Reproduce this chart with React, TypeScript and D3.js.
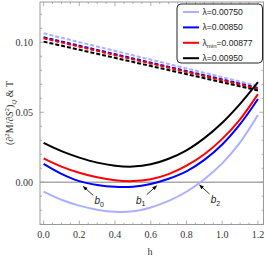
import React, { useEffect, useRef } from "react";
import * as d3 from "d3";

// h values where the curves were read
const hValues = [0, 0.1, 0.2, 0.3, 0.4, 0.5, 0.6, 0.7, 0.8, 0.9, 1.0, 1.1, 1.2];

// (d2M/dS2)_Q curves
const curve00750 = [-0.0067, -0.0125, -0.0167, -0.0196, -0.0211, -0.0208, -0.018, -0.0133, -0.0068, 0.0022, 0.0135, 0.0285, 0.048];
const curve00850 = [0.0131, 0.006, 0.0008, -0.002, -0.0033, -0.0032, -0.0012, 0.0025, 0.0078, 0.016, 0.027, 0.0415, 0.0595];
const curve00877 = [0.0171, 0.0112, 0.0068, 0.0035, 0.0014, 0.0008, 0.0022, 0.0058, 0.0118, 0.02, 0.031, 0.045, 0.063];
const curve00950 = [0.0281, 0.0222, 0.0176, 0.014, 0.0118, 0.0112, 0.0128, 0.0168, 0.0228, 0.0315, 0.0425, 0.056, 0.0715];

// temperature T (dashed), end points at h = 0 and h = 1.2
const tempH = [0, 1.2];
const temp00750 = [0.1064, 0.0688];
const temp00850 = [0.1036, 0.0674];
const temp00877 = [0.1029, 0.0668];
const temp00950 = [0.1005, 0.0656];

const legendLabels = ["0.00750", "0.00850", "0.00877", "0.00950"];
const colors = ["#aab0ff", "#0000ff", "#ff0000", "#000000"];

const xTicks = [0, 0.2, 0.4, 0.6, 0.8, 1.0, 1.2];
const yTicks = [0, 0.05, 0.1];

// b0, b1, b2 crossing annotations: [h, value at arrow tip]
const bPoints = [
  { name: "0", h: 0.222, v: -0.003, dir: 1 },
  { name: "1", h: 0.633, v: -0.0025, dir: -1 },
  { name: "2", h: 0.873, v: -0.002, dir: 1 },
];

export default function App() {
  const ref = useRef<SVGSVGElement>(null);

  useEffect(() => {
    drawChart();
    //eslint-disable-next-line
  }, []);

  function drawChart() {
    const svg = d3.select(ref.current);
    svg.selectAll("*").remove();

    const left = 40, right = 263.5, top = 2, bottom = 224.5;
    const x = d3.scaleLinear().domain([-0.02, 1.231]).range([left, right]);
    const y = d3.scaleLinear().domain([-0.0302, 0.1288]).range([bottom, top]);

    const frameColor = "#999";

    // zero line
    svg
      .append("line")
      .attr("x1", left)
      .attr("x2", right)
      .attr("y1", y(0))
      .attr("y2", y(0))
      .attr("stroke", "#aaa")
      .attr("stroke-width", 1.5);

    const line = d3
      .line<[number, number]>()
      .x((d) => x(d[0]))
      .y((d) => y(d[1]))
      .curve(d3.curveCatmullRom);

    const g = svg.append("g");

    [temp00750, temp00850, temp00877, temp00950].forEach((vals, i) => {
      g.append("path")
        .attr("d", line(tempH.map((h, j) => [h, vals[j]] as [number, number])))
        .attr("fill", "none")
        .attr("stroke", colors[i])
        .attr("stroke-width", 2)
        .attr("stroke-dasharray", "4,2");
    });

    [curve00750, curve00850, curve00877, curve00950].forEach((vals, i) => {
      g.append("path")
        .attr("d", line(hValues.map((h, j) => [h, vals[j]] as [number, number])))
        .attr("fill", "none")
        .attr("stroke", colors[i])
        .attr("stroke-width", 2);
    });

    // frame
    svg
      .append("rect")
      .attr("x", left)
      .attr("y", top)
      .attr("width", right - left)
      .attr("height", bottom - top)
      .attr("fill", "none")
      .attr("stroke", frameColor)
      .attr("stroke-width", 1);

    // ticks (inside, mirrored)
    const ticks = svg.append("g").attr("stroke", frameColor).attr("stroke-width", 0.8);
    d3.range(0, 1.2001, 0.05).forEach((t) => {
      const major = xTicks.some((m) => Math.abs(m - t) < 1e-6);
      const len = major ? 4 : 2;
      ticks.append("line").attr("x1", x(t)).attr("x2", x(t)).attr("y1", bottom).attr("y2", bottom - len);
      ticks.append("line").attr("x1", x(t)).attr("x2", x(t)).attr("y1", top).attr("y2", top + len);
    });
    d3.range(-0.03, 0.1201, 0.01).forEach((t) => {
      const major = yTicks.some((m) => Math.abs(m - t) < 1e-6);
      const len = major ? 4 : 2;
      ticks.append("line").attr("x1", left).attr("x2", left + len).attr("y1", y(t)).attr("y2", y(t));
      ticks.append("line").attr("x1", right).attr("x2", right - len).attr("y1", y(t)).attr("y2", y(t));
    });

    const font = "'Liberation Serif', 'DejaVu Serif', serif";

    svg
      .append("g")
      .selectAll("text")
      .data(xTicks)
      .enter()
      .append("text")
      .attr("x", (d) => x(d))
      .attr("y", 238)
      .attr("text-anchor", "middle")
      .attr("font-family", font)
      .attr("font-size", 10)
      .attr("fill", "#333")
      .text((d) => d.toFixed(1));

    svg
      .append("g")
      .selectAll("text")
      .data(yTicks)
      .enter()
      .append("text")
      .attr("x", 33)
      .attr("y", (d) => y(d) + 3.5)
      .attr("text-anchor", "end")
      .attr("font-family", font)
      .attr("font-size", 10)
      .attr("fill", "#333")
      .text((d) => d.toFixed(2));

    // axis labels
    svg
      .append("text")
      .attr("x", 150)
      .attr("y", 255)
      .attr("text-anchor", "middle")
      .attr("font-family", font)
      .attr("font-size", 10)
      .attr("fill", "#333")
      .text("h");

    const yl = svg
      .append("text")
      .attr("transform", "translate(13,113) rotate(-90)")
      .attr("text-anchor", "middle")
      .attr("font-family", font)
      .attr("font-size", 10)
      .attr("fill", "#333");
    yl.append("tspan").text("(∂");
    yl.append("tspan").attr("dy", -4).attr("font-size", 7).text("2");
    yl.append("tspan").attr("dy", 4).text("M/∂");
    yl.append("tspan").attr("font-style", "italic").text("S");
    yl.append("tspan").attr("dy", -4).attr("font-size", 7).text("2");
    yl.append("tspan").attr("dy", 4).text(")");
    yl.append("tspan").attr("dy", 3).attr("font-size", 7).attr("font-style", "italic").text("Q");
    yl.append("tspan").attr("dy", -3).text(" & T");

    // annotations
    const defs = svg.append("defs");
    defs
      .append("marker")
      .attr("id", "arrow")
      .attr("viewBox", "0 0 10 10")
      .attr("refX", 9)
      .attr("refY", 5)
      .attr("markerWidth", 6)
      .attr("markerHeight", 6)
      .attr("orient", "auto")
      .append("path")
      .attr("d", "M0,1 L10,5 L0,9 Z")
      .attr("fill", "#000");

    bPoints.forEach((b) => {
      const tx = x(b.h);
      const ty = y(b.v);
      svg
        .append("line")
        .attr("x1", tx + b.dir * 10)
        .attr("y1", ty + 9)
        .attr("x2", tx)
        .attr("y2", ty)
        .attr("stroke", "#000")
        .attr("stroke-width", 0.8)
        .attr("marker-end", "url(#arrow)");
      const t = svg
        .append("text")
        .attr("x", tx + b.dir * 16)
        .attr("y", ty + 18)
        .attr("text-anchor", "middle")
        .attr("font-family", "'Liberation Sans', Arial, sans-serif")
        .attr("font-size", 10)
        .attr("fill", "#222");
      t.append("tspan").attr("font-style", "italic").text("b");
      t.append("tspan").attr("dy", 2.5).attr("font-size", 7).text(b.name);
    });

    // legend
    const lg = svg.append("g");
    lg.append("rect")
      .attr("x", 177)
      .attr("y", 4)
      .attr("width", 85.5)
      .attr("height", 59)
      .attr("rx", 4)
      .attr("fill", "#fff")
      .attr("stroke", "#222")
      .attr("stroke-width", 1);
    legendLabels.forEach((lab, i) => {
      const ly = 12 + i * 15.4;
      lg.append("line")
        .attr("x1", 183)
        .attr("x2", 199)
        .attr("y1", ly)
        .attr("y2", ly)
        .attr("stroke", colors[i])
        .attr("stroke-width", 2);
      const t = lg
        .append("text")
        .attr("x", 202.5)
        .attr("y", ly + 3)
        .attr("font-family", "'Liberation Sans', Arial, sans-serif")
        .attr("font-size", 8.6)
        .attr("fill", "#222");
      t.append("tspan").text("λ");
      if (i === 2) {
        t.append("tspan").attr("dy", 2).attr("font-size", 6).text("min");
        t.append("tspan").attr("dy", -2).text("=" + lab);
      } else {
        t.append("tspan").text("=" + lab);
      }
    });
  }

  return (
    <div style={{ position: "absolute", left: 0, top: 0 }}>
      <svg ref={ref} width={266} height={258} style={{ display: "block" }}></svg>
    </div>
  );
}
